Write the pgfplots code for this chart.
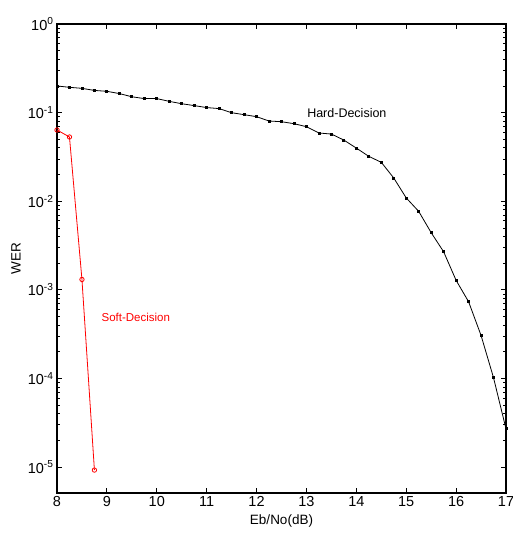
\documentclass[border=0pt]{standalone}
\usepackage{fontspec}
\setmainfont{Liberation Sans}
\usepackage{pgfplots}
\pgfplotsset{compat=1.18}

\begin{document}
\begin{tikzpicture}
\begin{axis}[
    scale only axis,
    width=449pt, height=469pt,
    ymode=log,
    xmin=8, xmax=17,
    ymin=5.1e-6, ymax=1,
    xtick={8,9,...,17},
    ytick={1e-5,1e-4,1e-3,1e-2,1e-1,1},
    yticklabels={10\textsuperscript{-5},10\textsuperscript{-4},10\textsuperscript{-3},10\textsuperscript{-2},10\textsuperscript{-1},10\textsuperscript{0}},
    tick align=inside,
    tick pos=both,
    major tick length=5pt,
    minor tick length=3pt,
    axis line style={line width=1.5pt},
    every tick/.style={black, line width=0.8pt},
    tick label style={font=\fontsize{14.5}{16}\selectfont},
    /pgf/number format/assume math mode=true,
    xlabel={Eb/No(dB)},
    ylabel={WER},
    label style={font=\fontsize{13.5}{16}\selectfont},
    xlabel style={at={(axis description cs:0.5,-28/469)}, anchor=center},
    ylabel style={at={(axis description cs:-41/449,0.5)}, anchor=center},
]
\addplot[black, line width=0.8pt, mark=square*, mark size=1pt] coordinates {
(8,0.200) (8.25,0.193) (8.5,0.188) (8.75,0.178) (9,0.174) (9.25,0.164)
(9.5,0.151) (9.75,0.144) (10,0.144) (10.25,0.134) (10.5,0.126) (10.75,0.120)
(11,0.114) (11.25,0.111) (11.5,0.0998) (11.75,0.0948) (12,0.090) (12.25,0.0804)
(12.5,0.079) (12.75,0.075) (13,0.0694) (13.25,0.0589) (13.5,0.0573) (13.75,0.049)
(14,0.0398) (14.25,0.0321) (14.5,0.0275) (14.75,0.0183) (15,0.0109) (15.25,0.00769)
(15.5,0.00442) (15.75,0.00269) (16,0.00128) (16.25,0.000735) (16.5,0.000306)
(16.75,0.000102) (17,0.000027)
};
\addplot[red, line width=0.8pt, mark=o, mark size=2.2pt] coordinates {
(8,0.0637) (8.25,0.0531) (8.5,0.00131) (8.75,9.25e-6)
};
\node[font=\fontsize{12.5}{14}\selectfont] at (axis cs:13.81,0.098) {Hard-Decision};
\node[font=\fontsize{11.5}{14}\selectfont, text=red] at (axis cs:9.58,4.9e-4) {Soft-Decision};
\end{axis}
\pgfresetboundingbox
\path ([shift={(-57pt,-45pt)}]current axis.south west) rectangle ([shift={(7pt,24pt)}]current axis.north east);
\end{tikzpicture}
\end{document}
